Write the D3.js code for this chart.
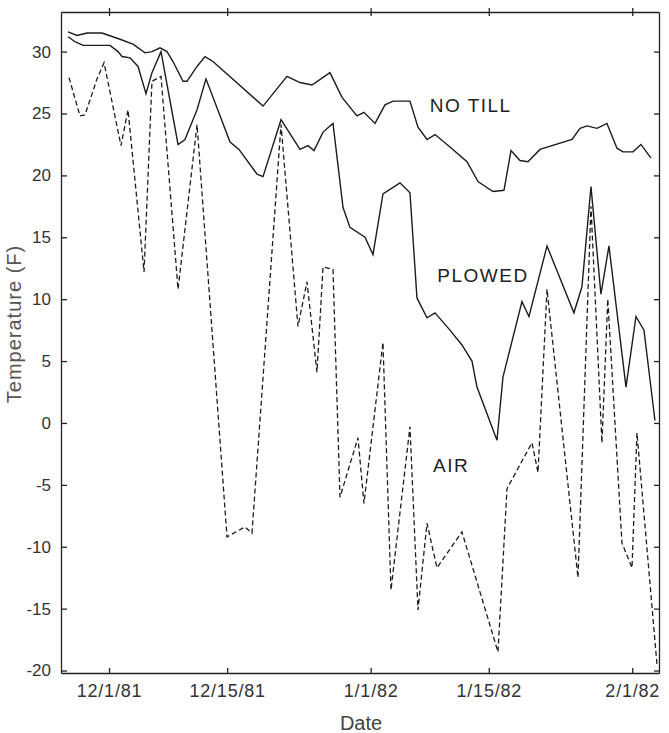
<!DOCTYPE html>
<meta charset="utf-8">
<head>
  <title>Soil and air temperature</title>
  <script src="https://d3js.org/d3.v7.min.js"></script>
  <style>
    body { margin: 0; background: #fff; font-family: "Liberation Sans", Arial, sans-serif; }
    .axis path, .axis line { stroke: #222; stroke-width: 1.3; }
    .axis text { fill: #333; font-family: "Liberation Sans", Arial, sans-serif; }
    .series { fill: none; stroke: #1c1c1c; stroke-width: 1.4; stroke-linejoin: miter; }
    .air { stroke-dasharray: 5,3; stroke-width: 1.3; }
    .label { fill: #222; font-size: 19px; letter-spacing: 1.5px; }
  </style>
</head>
<body>
<script>
  // Days counted from 12/1/81
  var noTillDays = [-4.86, -3.79, -2.61, -0.83, 1.30, 2.84, 4.27, 5.09, 6.04, 6.87,
    7.58, 8.77, 9.24, 10.43, 11.37, 12.32, 18.25, 21.09, 22.63, 24.05,
    26.18, 27.61, 29.38, 30.21, 31.52, 32.70, 33.65, 35.66, 36.61, 37.68,
    38.63, 40.40, 42.42, 43.72, 45.50, 46.80, 47.63, 48.70, 49.64, 51.07,
    54.86, 55.81, 56.64, 57.82, 59.00, 60.19, 60.90, 62.09, 63.03, 64.22];
  var noTillTemps = [31.6, 31.3, 31.5, 31.5, 31.0, 30.6, 29.9, 30.0, 30.3, 30.0,
    29.2, 27.6, 27.6, 28.8, 29.6, 29.2, 25.6, 28.0, 27.5, 27.3,
    28.3, 26.3, 24.8, 25.1, 24.2, 25.7, 26.0, 26.0, 23.9, 22.9,
    23.3, 22.3, 21.1, 19.5, 18.7, 18.8, 22.0, 21.2, 21.1, 22.1,
    22.9, 23.8, 24.0, 23.8, 24.2, 22.2, 21.9, 21.9, 22.5, 21.4];

  var plowedDays = [-4.86, -4.03, -3.08, 0.12, 1.07, 1.54, 2.49, 3.44, 4.38, 5.09,
    6.16, 8.18, 9.00, 10.43, 11.49, 14.34, 15.40, 17.54, 18.25, 20.38,
    22.63, 23.58, 24.29, 25.36, 26.54, 27.73, 28.55, 30.33, 31.28, 32.46,
    34.48, 35.66, 36.49, 37.68, 38.63, 40.40, 41.82, 43.01, 43.60, 45.97,
    46.68, 48.93, 49.76, 51.90, 55.09, 56.04, 57.11, 58.29, 59.24, 61.26,
    62.44, 63.39, 64.69];
  var plowedTemps = [31.2, 30.8, 30.5, 30.5, 30.0, 29.6, 29.5, 28.8, 26.6, 28.3,
    30.0, 22.5, 22.9, 25.3, 27.8, 22.7, 22.1, 20.1, 19.9, 24.5,
    22.1, 22.4, 22.0, 23.5, 24.2, 17.4, 15.8, 15.0, 13.6, 18.5,
    19.4, 18.6, 10.1, 8.5, 8.9, 7.5, 6.3, 5.0, 2.9, -1.4,
    3.7, 9.8, 8.6, 14.3, 8.9, 11.0, 19.1, 10.4, 14.3, 2.9,
    8.6, 7.5, 0.2];

  var airDays = [-4.74, -3.44, -2.84, -1.42, -0.59, 1.42, 2.25, 4.15, 5.09, 6.16,
    8.18, 10.43, 13.98, 16.11, 16.94, 20.38, 22.39, 23.46, 24.64, 25.36,
    26.54, 27.37, 29.50, 30.21, 32.46, 33.41, 35.66, 36.61, 37.68, 38.86,
    41.82, 46.09, 47.16, 50.12, 50.83, 51.90, 55.57, 57.11, 58.41, 59.10,
    60.78, 61.97, 62.56, 64.93];
  var airTemps = [27.9, 24.8, 24.9, 27.8, 29.1, 22.4, 25.3, 12.2, 27.6, 28.0,
    10.8, 24.1, -9.2, -8.4, -8.9, 24.1, 7.8, 11.4, 4.1, 12.6,
    12.4, -6.0, -1.2, -6.5, 6.5, -13.5, -0.3, -15.1, -8.1, -11.7,
    -8.8, -18.5, -5.3, -1.6, -4.0, 10.8, -12.5, 17.5, -1.6, 10.0,
    -9.7, -11.7, -0.8, -19.5];

  var dateTicks = ["1981-12-01", "1981-12-15", "1982-01-01", "1982-01-15", "1982-02-01"];
  var tempTicks = [-20, -15, -10, -5, 0, 5, 10, 15, 20, 25, 30];

  var width = 669, height = 733;
  var plotLeft = 61, plotRight = 659, plotTop = 12, plotBottom = 673;

  var base = new Date(1981, 11, 1).getTime();
  function dayToDate(d) { return new Date(base + d * 864e5); }
  var parseDay = d3.timeParse("%Y-%m-%d");

  var x = d3.scaleTime()
    .domain([dayToDate(-5.69), dayToDate(65.17)])
    .range([plotLeft, plotRight]);
  var y = d3.scaleLinear()
    .domain([-20.2, 33.2])
    .range([plotBottom, plotTop]);

  var svg = d3.select("body").append("svg")
    .attr("width", width)
    .attr("height", height);

  var ticksX = dateTicks.map(parseDay);
  var fmtDate = d3.timeFormat("%-m/%-d/%y");

  // bottom axis, ticks pointing in
  svg.append("g")
    .attr("class", "axis")
    .attr("transform", "translate(0," + plotBottom + ")")
    .call(d3.axisBottom(x).tickValues(ticksX).tickFormat(fmtDate)
      .tickSizeInner(-5).tickSizeOuter(0).tickPadding(11))
    .selectAll("text").style("font-size", "18px").style("letter-spacing", "0.8px");

  // top axis, ticks crossing the line
  svg.append("g")
    .attr("class", "axis")
    .attr("transform", "translate(0," + plotTop + ")")
    .call(d3.axisTop(x).tickValues(ticksX).tickFormat("").tickSizeInner(4).tickSizeOuter(0));
  svg.append("g")
    .attr("class", "axis")
    .attr("transform", "translate(0," + plotTop + ")")
    .call(d3.axisTop(x).tickValues(ticksX).tickFormat("").tickSizeInner(-4).tickSizeOuter(0))
    .select(".domain").remove();

  // left axis
  svg.append("g")
    .attr("class", "axis")
    .attr("transform", "translate(" + plotLeft + ",0)")
    .call(d3.axisLeft(y).tickValues(tempTicks).tickFormat(function(d) { return String(d); })
      .tickSizeInner(-6).tickSizeOuter(0).tickPadding(10))
    .selectAll("text").style("font-size", "17px");

  // right axis
  svg.append("g")
    .attr("class", "axis")
    .attr("transform", "translate(" + plotRight + ",0)")
    .call(d3.axisRight(y).tickValues(tempTicks).tickFormat("")
      .tickSizeInner(-5).tickSizeOuter(0));

  // series
  var line = d3.line()
    .x(function(d) { return x(dayToDate(d[0])); })
    .y(function(d) { return y(d[1]); });

  function pairs(days, temps) {
    return days.map(function(d, i) { return [d, temps[i]]; });
  }

  svg.append("path").datum(pairs(noTillDays, noTillTemps))
    .attr("class", "series").attr("d", line);
  svg.append("path").datum(pairs(plowedDays, plowedTemps))
    .attr("class", "series").attr("d", line);
  svg.append("path").datum(pairs(airDays, airTemps))
    .attr("class", "series air").attr("d", line);

  // series labels
  svg.append("text").attr("class", "label")
    .attr("x", x(dayToDate(38.0))).attr("y", y(25.1)).text("NO TILL");
  svg.append("text").attr("class", "label")
    .attr("x", x(dayToDate(38.9))).attr("y", y(11.35)).text("PLOWED");
  svg.append("text").attr("class", "label")
    .attr("x", x(dayToDate(38.4))).attr("y", y(-4.0)).text("AIR");

  // axis titles
  svg.append("text")
    .attr("x", (plotLeft + plotRight) / 2 + 1).attr("y", 730)
    .attr("text-anchor", "middle")
    .style("font-size", "20px").style("fill", "#444")
    .text("Date");
  svg.append("text")
    .attr("transform", "translate(21,324) rotate(-90)")
    .attr("text-anchor", "middle")
    .style("font-size", "20px").style("fill", "#555").style("letter-spacing", "1px")
    .text("Temperature (F)");
</script>
</body>
